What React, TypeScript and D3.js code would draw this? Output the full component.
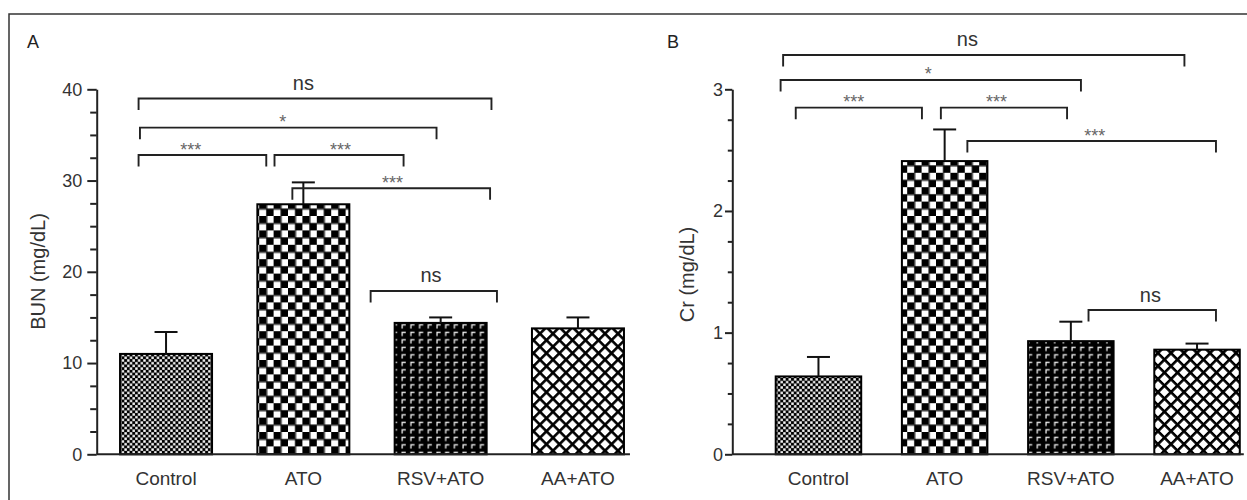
import React, { useRef, useEffect } from "react";
import * as d3 from "d3";

// groups on the x axis
const categories = ["Control", "ATO", "RSV+ATO", "AA+ATO"];

// panel A : BUN (mg/dL), mean and SEM
const bunMean = [11.0, 27.4, 14.4, 13.8];
const bunSem = [2.4, 2.4, 0.6, 1.2];
const bunTicks = [0, 10, 20, 30, 40];

// panel B : Cr (mg/dL), mean and SEM
const crMean = [0.64, 2.41, 0.93, 0.86];
const crSem = [0.16, 0.26, 0.16, 0.05];
const crTicks = [0, 1, 2, 3];

// significance brackets : from / to / label position in category index, level in data units
const bunBrackets = [
  { from: -0.2, to: 2.37, label: "ns", level: 39.0, at: 1.0 },
  { from: -0.19, to: 1.97, label: "*", level: 35.8, at: 0.85 },
  { from: -0.2, to: 0.73, label: "***", level: 32.8, at: 0.18 },
  { from: 0.79, to: 1.73, label: "***", level: 32.8, at: 1.27 },
  { from: 0.92, to: 2.36, label: "***", level: 29.15, at: 1.65 },
  { from: 1.49, to: 2.41, label: "ns", level: 17.9, at: 1.93 },
];
const crBrackets = [
  { from: -0.28, to: 2.9, label: "ns", level: 3.282, at: 1.18 },
  { from: -0.3, to: 2.08, label: "*", level: 3.077, at: 0.87 },
  { from: -0.18, to: 0.82, label: "***", level: 2.849, at: 0.28 },
  { from: 0.97, to: 1.97, label: "***", level: 2.849, at: 1.41 },
  { from: 1.18, to: 3.15, label: "***", level: 2.575, at: 2.19 },
  { from: 2.14, to: 3.15, label: "ns", level: 1.186, at: 2.63 },
];

const patterns = ["pat-control", "pat-ato", "pat-rsv", "pat-aa"];
const FONT = "'Liberation Sans', Arial, sans-serif";

function drawPanel(svg, cfg) {
  const g = svg.append("g");
  const y = d3.scaleLinear().domain([0, cfg.max]).range([454.3, 89.3]);
  const x = d3
    .scaleBand()
    .domain(categories)
    .range(cfg.xRange)
    .paddingInner(cfg.padIn)
    .paddingOuter(cfg.padOut);
  const c0 = x(categories[0]) + x.bandwidth() / 2;
  const pos = (i) => c0 + i * x.step();

  // bars
  g.selectAll("rect.bar")
    .data(cfg.mean)
    .join("rect")
    .attr("class", "bar")
    .attr("x", (d, i) => x(categories[i]))
    .attr("y", (d) => y(d))
    .attr("width", x.bandwidth())
    .attr("height", (d) => y(0) - y(d))
    .attr("fill", (d, i) => `url(#${patterns[i]})`)
    .attr("stroke", "#000")
    .attr("stroke-width", 2);

  // error bars (upper only)
  const err = g
    .selectAll("g.err")
    .data(cfg.mean)
    .join("g")
    .attr("class", "err")
    .attr("stroke", "#111")
    .attr("stroke-width", 2);
  err
    .append("line")
    .attr("x1", (d, i) => pos(i))
    .attr("x2", (d, i) => pos(i))
    .attr("y1", (d) => y(d))
    .attr("y2", (d, i) => y(d + cfg.sem[i]));
  err
    .append("line")
    .attr("x1", (d, i) => pos(i) - 11.5)
    .attr("x2", (d, i) => pos(i) + 11.5)
    .attr("y1", (d, i) => y(d + cfg.sem[i]))
    .attr("y2", (d, i) => y(d + cfg.sem[i]));

  // brackets
  const br = g.selectAll("g.br").data(cfg.brackets).join("g").attr("class", "br");
  br.append("path")
    .attr("d", (b) => {
      const yy = y(b.level);
      return `M${pos(b.from)},${yy + 11.5}V${yy}H${pos(b.to)}V${yy + 11.5}`;
    })
    .attr("fill", "none")
    .attr("stroke", "#222")
    .attr("stroke-width", 1.9);
  br.append("text")
    .attr("x", (b) => pos(b.at))
    .attr("y", (b) => (b.label === "ns" ? y(b.level) - 8.5 : y(b.level) + 0.5))
    .attr("text-anchor", "middle")
    .attr("font-family", FONT)
    .attr("font-size", (b) => (b.label === "ns" ? 20 : 18))
    .attr("fill", (b) => (b.label === "ns" ? "#333" : "#666"))
    .text((b) => b.label);

  // category labels
  g.selectAll("text.cat")
    .data(categories)
    .join("text")
    .attr("class", "cat")
    .attr("x", (d) => x(d) + x.bandwidth() / 2)
    .attr("y", 485)
    .attr("text-anchor", "middle")
    .attr("font-family", FONT)
    .attr("font-size", 19)
    .attr("fill", "#333")
    .text((d) => d);

  // x baseline
  g.append("line")
    .attr("x1", cfg.xRange[0])
    .attr("x2", x(categories[3]) + x.bandwidth() + cfg.baseExtra)
    .attr("y1", y(0))
    .attr("y2", y(0))
    .attr("stroke", "#222")
    .attr("stroke-width", 2);

  // y axis, minor ticks
  const minor = d3
    .range(0, cfg.max + cfg.minorStep / 2, cfg.minorStep)
    .filter((v) => !cfg.ticks.includes(v));
  const gm = g
    .append("g")
    .attr("transform", `translate(${cfg.xRange[0]},0)`)
    .attr("color", "#222")
    .call(d3.axisLeft(y).tickValues(minor).tickFormat(() => "").tickSize(cfg.minorSize).tickSizeOuter(0));
  gm.select(".domain").remove();
  gm.selectAll("line").attr("stroke-width", 2);

  // y axis, major ticks
  const ga = g
    .append("g")
    .attr("transform", `translate(${cfg.xRange[0]},0)`)
    .attr("color", "#222")
    .call(
      d3.axisLeft(y).tickValues(cfg.ticks).tickFormat(d3.format("d")).tickSize(cfg.tickSize).tickPadding(cfg.tickPad).tickSizeOuter(0)
    );
  ga.select(".domain").attr("stroke-width", 2);
  ga.selectAll("line").attr("stroke-width", 2);
  ga.selectAll("text").attr("font-family", FONT).attr("font-size", 18).attr("fill", "#333");

  // axis title
  g.append("text")
    .attr("transform", `translate(${cfg.titleX},${cfg.titleY}) rotate(-90)`)
    .attr("text-anchor", "middle")
    .attr("font-family", FONT)
    .attr("font-size", 20)
    .attr("fill", "#333")
    .text(cfg.title);

  // panel letter
  g.append("text")
    .attr("x", cfg.letterX)
    .attr("y", 48)
    .attr("font-family", FONT)
    .attr("font-size", 18)
    .attr("fill", "#222")
    .text(cfg.letter);
}

const App = () => {
  const svgRef = useRef(null);

  useEffect(() => {
    const svg = d3.select(svgRef.current);
    svg.selectAll("*").remove();

    const defs = svg.append("defs");
    // fine checker (Control)
    const p1 = defs.append("pattern").attr("id", "pat-control").attr("patternUnits", "userSpaceOnUse").attr("width", 5.4).attr("height", 5.4);
    p1.append("rect").attr("width", 5.4).attr("height", 5.4).attr("fill", "#000");
    p1.append("rect").attr("x", 0.2).attr("y", 0.2).attr("width", 2.4).attr("height", 2.4).attr("fill", "#fff");
    p1.append("rect").attr("x", 2.9).attr("y", 2.9).attr("width", 2.4).attr("height", 2.4).attr("fill", "#fff");
    // big checker (ATO)
    const p2 = defs.append("pattern").attr("id", "pat-ato").attr("patternUnits", "userSpaceOnUse").attr("width", 14.4).attr("height", 14.4);
    p2.append("rect").attr("width", 14.4).attr("height", 14.4).attr("fill", "#fff");
    p2.append("rect").attr("x", 0).attr("y", 0).attr("width", 7.2).attr("height", 7.2).attr("fill", "#000");
    p2.append("rect").attr("x", 7.2).attr("y", 7.2).attr("width", 7.2).attr("height", 7.2).attr("fill", "#000");
    p2.append("rect").attr("x", 0).attr("y", 7.2).attr("width", 14.4).attr("height", 0.9).attr("fill", "#000");
    p2.append("rect").attr("x", 7.2).attr("y", 0).attr("width", 0.9).attr("height", 14.4).attr("fill", "#000");
    // dark weave (RSV+ATO)
    const p3 = defs.append("pattern").attr("id", "pat-rsv").attr("patternUnits", "userSpaceOnUse").attr("width", 8.7).attr("height", 7.5);
    p3.append("rect").attr("width", 8.7).attr("height", 7.5).attr("fill", "#000");
    p3.append("path").attr("d", "M2,6.2V2.3H5.6").attr("fill", "none").attr("stroke", "#eee").attr("stroke-width", 1.3);
    // cross hatch (AA+ATO)
    const s = 9.2;
    const p4 = defs
      .append("pattern")
      .attr("id", "pat-aa")
      .attr("patternUnits", "userSpaceOnUse")
      .attr("width", s)
      .attr("height", s)
      .attr("patternTransform", "rotate(45)");
    p4.append("rect").attr("width", s).attr("height", s).attr("fill", "#fff");
    p4.append("rect").attr("width", s).attr("height", 2.6).attr("fill", "#000");
    p4.append("rect").attr("width", 2.6).attr("height", s).attr("fill", "#000");

    // frame
    svg.append("path").attr("d", "M9,500V14H1247").attr("fill", "none").attr("stroke", "#333").attr("stroke-width", 1.5);

    drawPanel(svg, {
      mean: bunMean,
      sem: bunSem,
      ticks: bunTicks,
      brackets: bunBrackets,
      max: 40,
      minorStep: 2.5,
      xRange: [96.7, 647.3],
      padIn: 0.33,
      padOut: 0.17,
      baseExtra: 6,
      tickSize: 9.4,
      tickPad: 5,
      minorSize: 6.5,
      title: "BUN (mg/dL)",
      titleX: 44.5,
      titleY: 271.5,
      letter: "A",
      letterX: 27,
    });

    drawPanel(svg, {
      mean: crMean,
      sem: crSem,
      ticks: crTicks,
      brackets: crBrackets,
      max: 3,
      minorStep: 0.25,
      xRange: [732.3, 1283.2],
      padIn: 0.3225,
      padOut: 0.344,
      baseExtra: 4,
      tickSize: 7.3,
      tickPad: 2,
      minorSize: 4.5,
      title: "Cr (mg/dL)",
      titleX: 693.5,
      titleY: 274.5,
      letter: "B",
      letterX: 667,
    });
  }, []);

  return (
    <svg
      ref={svgRef}
      width={1247}
      height={500}
      style={{ position: "absolute", left: 0, top: 0, display: "block", background: "#fff" }}
    ></svg>
  );
};

export default App;
